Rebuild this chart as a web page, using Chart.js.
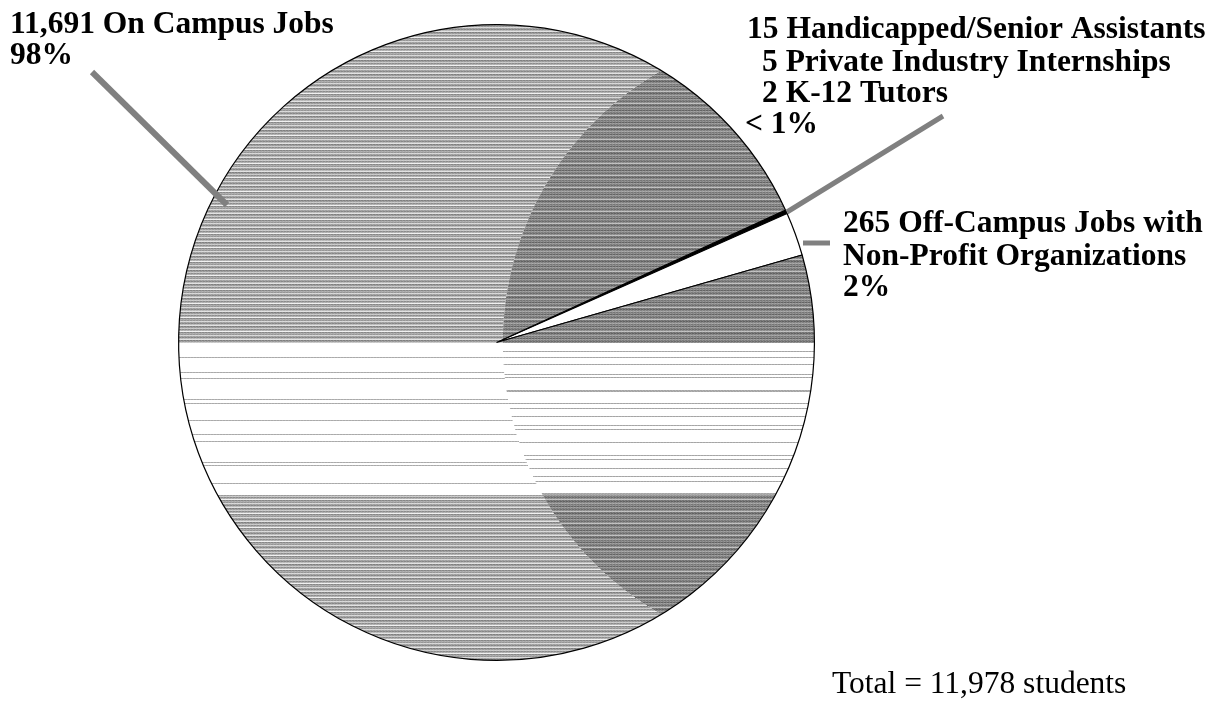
<!DOCTYPE html>
<html>
<head>
<meta charset="utf-8">
<script src="https://cdn.jsdelivr.net/npm/chart.js@4.4.0/dist/chart.umd.min.js"></script>
<style>
  html, body { margin: 0; padding: 0; background: #fff; }
  #wrap { width: 1212px; height: 707px; }
</style>
</head>
<body>
<div id="wrap"><canvas id="pie" width="1212" height="707"></canvas></div>
<script>
// data
const categories = ['Handicapped/Senior Assistants', 'Private Industry Internships', 'K-12 Tutors',
  'Off-Campus Jobs with Non-Profit Organizations', 'On Campus Jobs'];
const students = [15, 5, 2, 265, 11691];
const percentText = ['< 1%', '< 1%', '< 1%', '2%', '98%'];
const totalStudents = 11978;

const serif = '"Liberation Serif", "Times New Roman", serif';
const leaderGray = '#808080';

// horizontal stripe shading used for the big slice (it is only a texture)
const lightRows = [160, 135, 185, 225, 128, 155, 200, 140, 175, 240, 135, 170, 150, 215];
const darkRows = [118, 136, 100, 150, 124, 108, 140, 190, 116, 98, 130, 160];
let stripeCache = null;

function stripes(chart) {
  const area = chart.chartArea;
  if (!area) return '#aaaaaa';
  const key = [chart.width, chart.height, area.left, area.top, area.right, area.bottom].join(',');
  if (stripeCache && stripeCache.key === key) return stripeCache.pattern;

  const cx = (area.left + area.right) / 2;
  const cy = (area.top + area.bottom) / 2;
  const r = Math.min(area.right - area.left, area.bottom - area.top) / 2;
  const rr = 0.98 * r;

  const c = document.createElement('canvas');
  c.width = chart.width;
  c.height = chart.height;
  const g = c.getContext('2d');
  g.fillStyle = '#fff';
  g.fillRect(0, 0, c.width, c.height);

  for (let y = 0; y < c.height; y++) {
    const dy = y + 0.5 - cy;
    // where the darker crescent on the right starts
    const split = Math.abs(dy) < rr ? cx + r - Math.sqrt(rr * rr - dy * dy) : c.width;
    let a = lightRows[y % lightRows.length];
    let b = darkRows[y % darkRows.length];
    if (dy > 0 && dy < 0.48 * r) {
      a = (y % 21 === 0 || y % 31 === 0) ? 170 : 255;
      b = (y % 13 === 0 || y % 17 === 0) ? 165 : 255;
    }
    g.fillStyle = 'rgb(' + a + ',' + a + ',' + a + ')';
    g.fillRect(0, y, split, 1);
    g.fillStyle = 'rgb(' + b + ',' + b + ',' + b + ')';
    g.fillRect(split, y, c.width - split, 1);
    // a little dither along the row
    g.fillStyle = 'rgba(255,255,255,0.15)';
    for (let x = (y % 2); x < c.width; x += 3) g.fillRect(x, y, 1, 1);
  }

  const pattern = chart.ctx.createPattern(c, 'no-repeat');
  stripeCache = { key: key, pattern: pattern };
  return pattern;
}

const sliceColors = ['#000000', '#000000', '#000000', '#ffffff', null];

// labels and leader lines
const labelPlugin = {
  id: 'labels',
  afterDraw(chart) {
    const ctx = chart.ctx;
    ctx.save();

    ctx.strokeStyle = leaderGray;
    ctx.lineCap = 'butt';
    ctx.lineWidth = 6;
    ctx.beginPath(); ctx.moveTo(92, 72); ctx.lineTo(227, 205); ctx.stroke();
    ctx.lineWidth = 5;
    ctx.beginPath(); ctx.moveTo(787, 212); ctx.lineTo(943, 116); ctx.stroke();
    ctx.beginPath(); ctx.moveTo(803, 243); ctx.lineTo(830, 243); ctx.stroke();

    ctx.fillStyle = '#000';
    ctx.textBaseline = 'alphabetic';
    ctx.textAlign = 'left';
    ctx.font = 'bold 31.5px ' + serif;

    ctx.fillText(students[4].toLocaleString('en-US') + ' ' + categories[4], 10, 33);
    ctx.fillText(percentText[4], 10, 64);

    ctx.fillText(students[0] + ' ' + categories[0], 747, 38);
    ctx.fillText(students[1] + ' ' + categories[1], 762, 71);
    ctx.fillText(students[2] + ' ' + categories[2], 762, 102);
    ctx.fillText(percentText[0], 745, 133);

    ctx.fillText(students[3] + ' Off-Campus Jobs with', 843, 232);
    ctx.fillText('Non-Profit Organizations', 843, 265);
    ctx.fillText(percentText[3], 843, 296);

    ctx.font = '31.5px ' + serif;
    ctx.fillText('Total = ' + totalStudents.toLocaleString('en-US') + ' students', 832, 693);

    ctx.restore();
  }
};

new Chart(document.getElementById('pie'), {
  type: 'pie',
  data: {
    labels: categories,
    datasets: [{
      data: students,
      backgroundColor: (c) => sliceColors[c.dataIndex] || stripes(c.chart),
      borderColor: '#000000',
      borderWidth: 1.2,
    }],
  },
  options: {
    responsive: false,
    animation: false,
    rotation: 65.4,
    layout: { padding: { left: 177, right: 396, top: 24, bottom: 46 } },
    plugins: {
      legend: { display: false },
      tooltip: { enabled: false },
    },
  },
  plugins: [labelPlugin],
});
</script>
</body>
</html>
